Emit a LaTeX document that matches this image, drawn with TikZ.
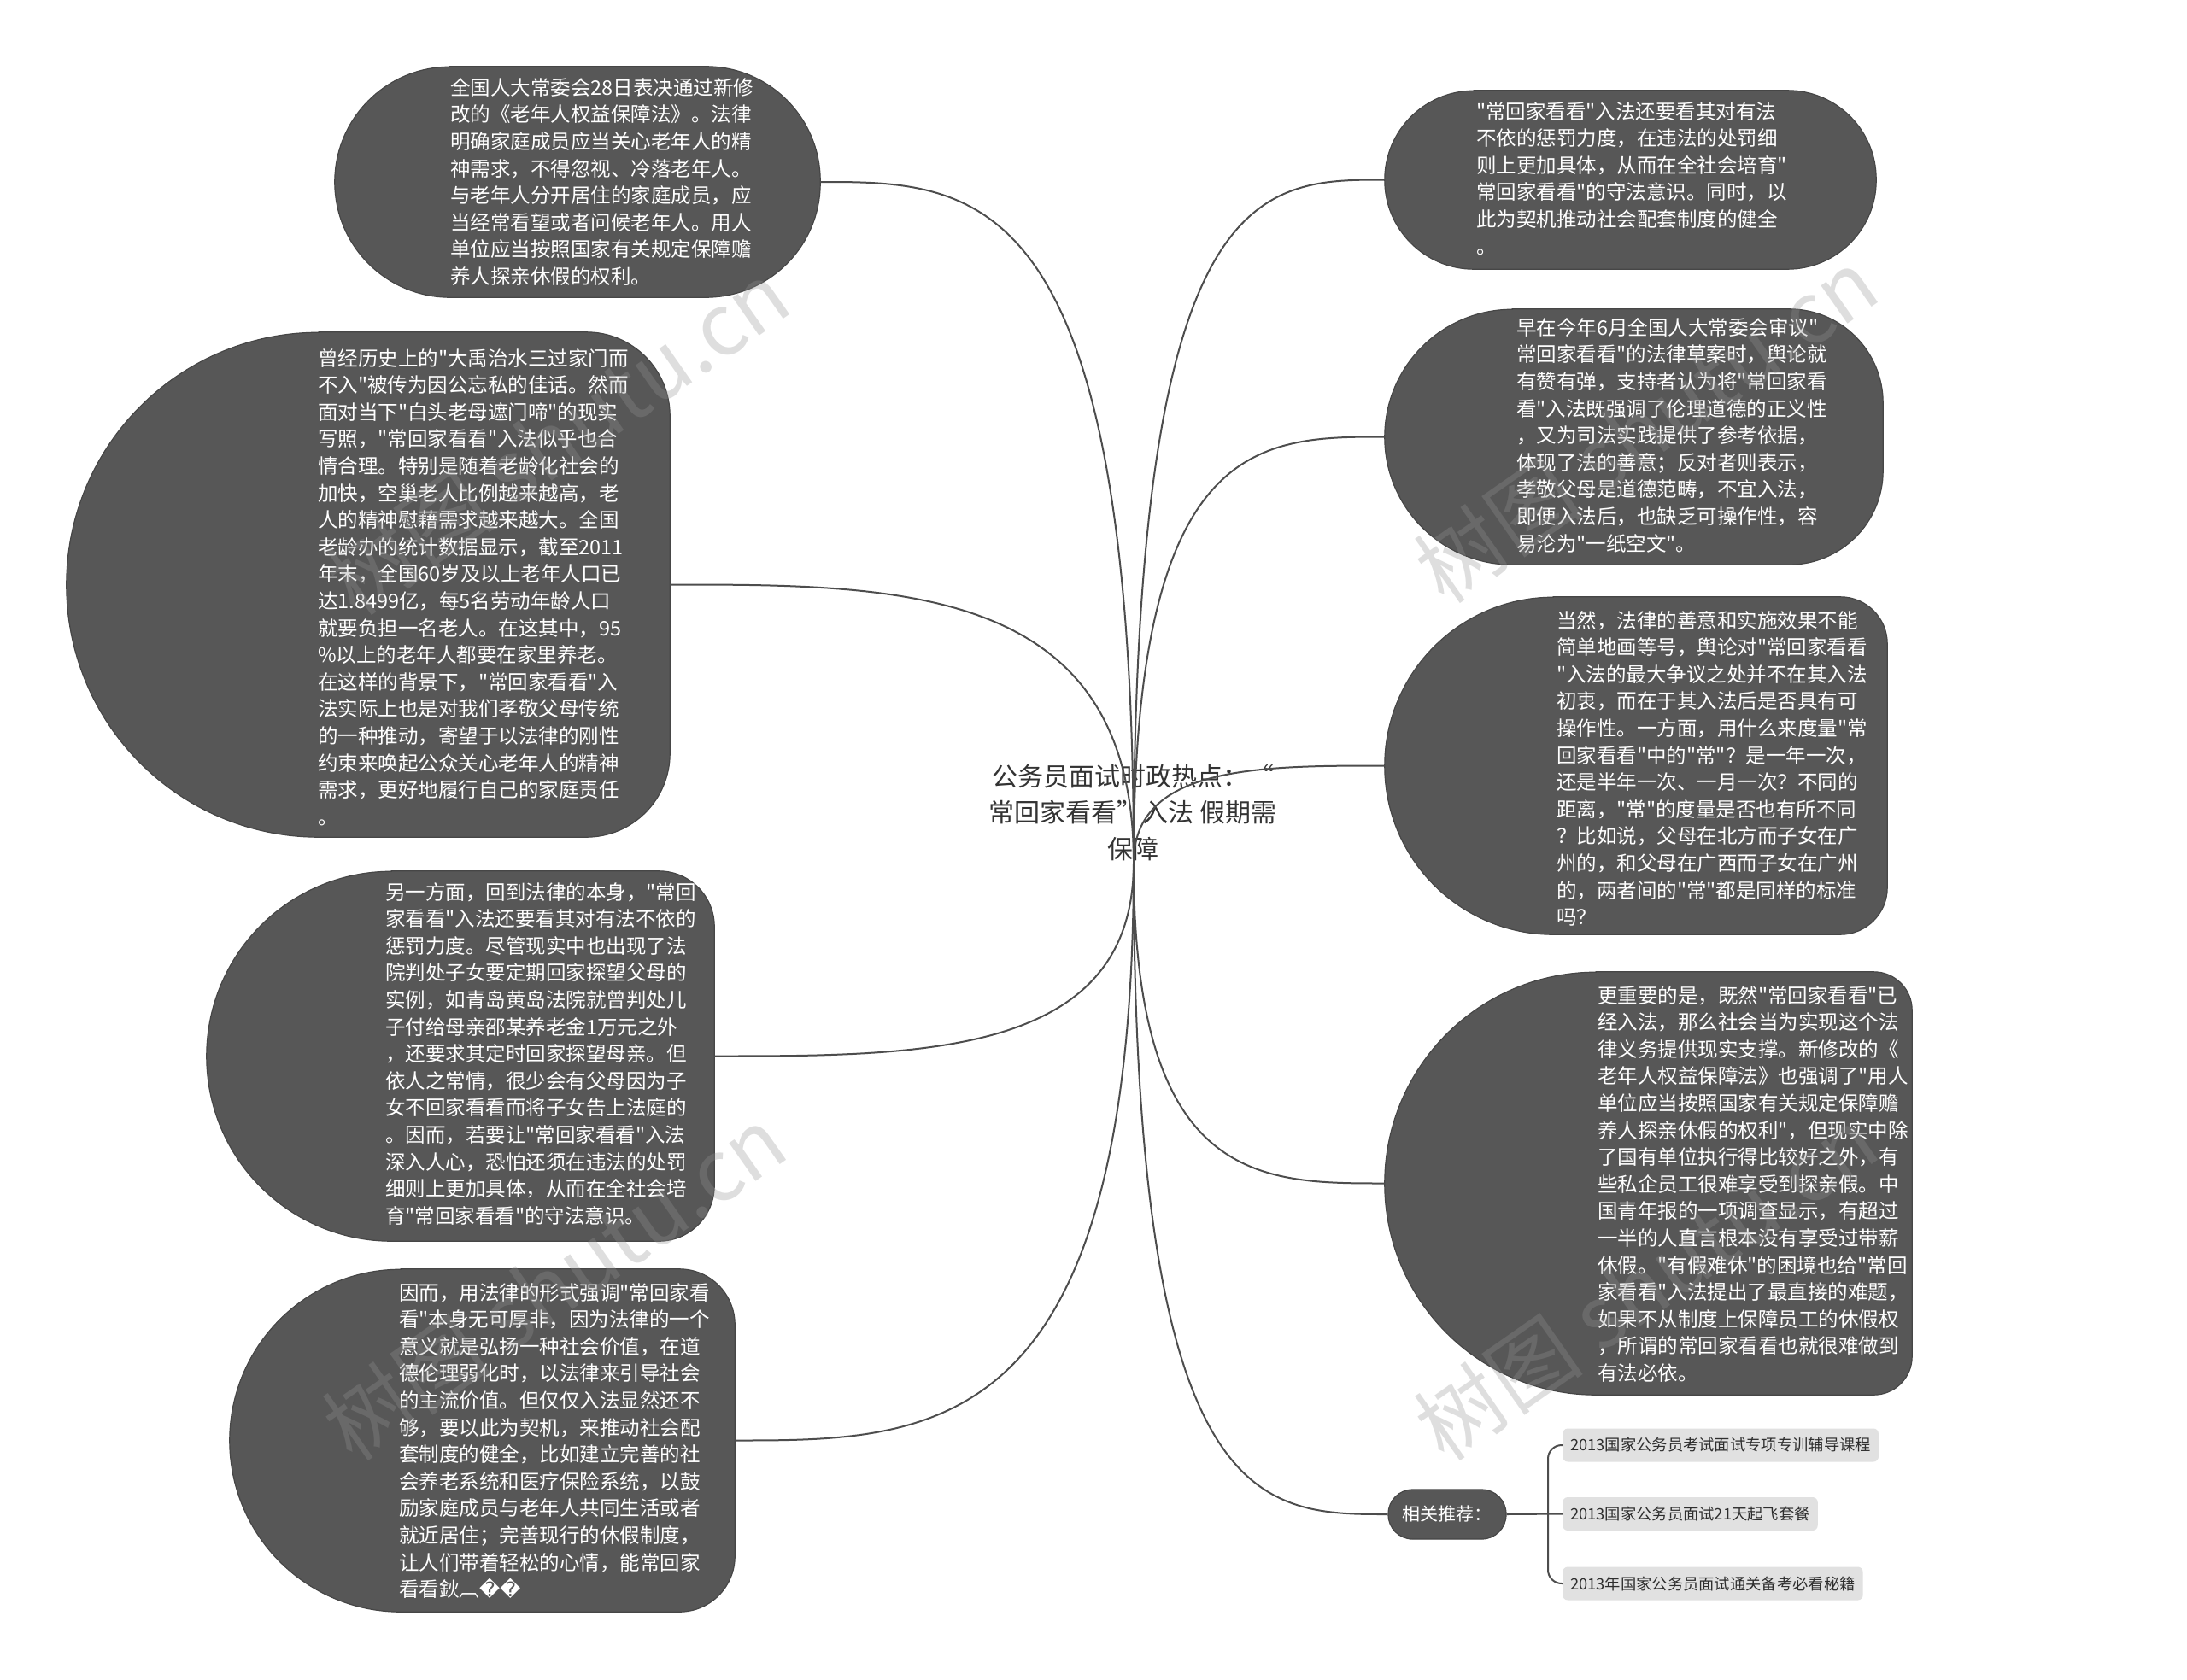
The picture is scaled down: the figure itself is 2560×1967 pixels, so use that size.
\documentclass[tikz,border=0pt]{standalone}
\usepackage{fontspec}
\setmainfont{Noto Sans CJK SC}[Ligatures=TeXOff]
\newfontfamily\symfont{DejaVu Sans}
\usetikzlibrary{calc}
\definecolor{nodefill}{HTML}{575757}
\definecolor{nodeline}{HTML}{464646}
\definecolor{linkcol}{HTML}{4D4D4D}
\definecolor{subfill}{HTML}{E1E1E1}
\definecolor{subtext}{HTML}{2E2E2E}
\definecolor{titletext}{HTML}{333333}
\definecolor{wmcol}{HTML}{939393}
\newcommand\mmlink[2]{\draw[link] (#1) .. controls (#1 |- #2) and ($(#1 |- #2)!0.5!(#2)$) .. (#2);}
% #1 frame node, #2 left cap radius, #3 right corner radius
\newcommand\blobshape[3]{\filldraw[blobstyle] ([xshift=#2pt]#1.north west) -- ([xshift=-#3pt]#1.north east)
  arc[start angle=90,end angle=0,radius=#3pt] -- ([yshift=#3pt]#1.south east)
  arc[start angle=0,end angle=-90,radius=#3pt] -- ([xshift=#2pt]#1.south west)
  arc[start angle=270,end angle=90,radius=#2pt] -- cycle;}
\begin{document}
\begin{tikzpicture}[x=1pt,y=-1pt,
  frame/.style 2 args={rectangle, inner sep=0pt, minimum width=#1pt, minimum height=#2pt},
  blobstyle/.style={draw=nodeline, line width=1.2pt, fill=nodefill},
  txt/.style={text=white, font=\fontsize{23.5pt}{31.6pt}\selectfont, align=left, anchor=north west, inner sep=0pt},
  link/.style={draw=linkcol, line width=2pt},
  subitem/.style={fill=subfill, rounded corners=6pt, inner xsep=9pt, inner ysep=0pt, minimum height=39pt,
     text=subtext, font=\fontsize{18.3pt}{22pt}\selectfont, anchor=west},
  wm/.style={text=wmcol, text opacity=0.3, font=\fontsize{100pt}{110pt}\selectfont, rotate=35, inner sep=0pt},
  titlestyle/.style={text=titletext, font=\fontsize{30pt}{42.5pt}\selectfont, align=center, inner sep=0pt}
]
\useasboundingbox[fill=white] (0,0) rectangle (2560,1967);

% central topic
\node[titlestyle] (title) at (1326,951) {公务员面试时政热点：“\\常回家看看”入法 假期需\\保障};
\coordinate (root) at (1327,1010);

% frames of the topic shapes
\node[frame={568}{270}] (L1) at (676,213) {};
\node[frame={706}{591}] (L2) at (431,684.5) {};
\node[frame={594}{433}] (L3) at (539,1236.5) {};
\node[frame={591}{401}] (L4) at (564.5,1686.5) {};
\node[frame={575}{209}] (R1) at (1908.5,210.5) {};
\node[frame={583}{299}] (R2) at (1912.5,511.5) {};
\node[frame={588}{395}] (R3) at (1915,896.5) {};
\node[frame={617}{495}] (R4) at (1929.5,1385.5) {};
\blobshape{L1}{135}{134}
\blobshape{L2}{295.5}{98}
\blobshape{L3}{216.5}{65}
\blobshape{L4}{200.5}{65}
\blobshape{R1}{104.5}{104}
\blobshape{R2}{149.5}{110}
\blobshape{R3}{197.5}{55}
\blobshape{R4}{247.5}{45}
\node[frame={138}{58}, draw=nodeline, line width=1.2pt, fill=nodefill, rounded corners=28.5pt,
      text=white, font=\fontsize{21pt}{24pt}\selectfont] (rel) at (1694,1773) {相关推荐：};

% connectors
\mmlink{root}{L1.east}
\mmlink{root}{L2.east}
\mmlink{root}{L3.east}
\mmlink{root}{L4.east}
\mmlink{root}{R1.west}
\mmlink{root}{R2.west}
\mmlink{root}{R3.west}
\mmlink{root}{R4.west}
\mmlink{root}{rel.west}

% texts
\node[txt] (L1t) at (527,91) {全国人大常委会28日表决通过新修\\改的《老年人权益保障法》。法律\\明确家庭成员应当关心老年人的精\\神需求，不得忽视、冷落老年人。\\与老年人分开居住的家庭成员，应\\当经常看望或者问候老年人。用人\\单位应当按照国家有关规定保障赡\\养人探亲休假的权利。};
\node[txt] (L2t) at (372,408) {曾经历史上的"大禹治水三过家门而\\不入"被传为因公忘私的佳话。然而\\面对当下"白头老母遮门啼"的现实\\写照，"常回家看看"入法似乎也合\\情合理。特别是随着老龄化社会的\\加快，空巢老人比例越来越高，老\\人的精神慰藉需求越来越大。全国\\老龄办的统计数据显示，截至2011\\年末，全国60岁及以上老年人口已\\达1.8499亿，每5名劳动年龄人口\\就要负担一名老人。在这其中，95\\\%以上的老年人都要在家里养老。\\在这样的背景下，"常回家看看"入\\法实际上也是对我们孝敬父母传统\\的一种推动，寄望于以法律的刚性\\约束来唤起公众关心老年人的精神\\需求，更好地履行自己的家庭责任\\。};
\node[txt] (L3t) at (451,1033) {另一方面，回到法律的本身，"常回\\家看看"入法还要看其对有法不依的\\惩罚力度。尽管现实中也出现了法\\院判处子女要定期回家探望父母的\\实例，如青岛黄岛法院就曾判处儿\\子付给母亲邵某养老金1万元之外\\，还要求其定时回家探望母亲。但\\依人之常情，很少会有父母因为子\\女不回家看看而将子女告上法庭的\\。因而，若要让"常回家看看"入法\\深入人心，恐怕还须在违法的处罚\\细则上更加具体，从而在全社会培\\育"常回家看看"的守法意识。};
\node[txt] (L4t) at (467,1502) {因而，用法律的形式强调"常回家看\\看"本身无可厚非，因为法律的一个\\意义就是弘扬一种社会价值，在道\\德伦理弱化时，以法律来引导社会\\的主流价值。但仅仅入法显然还不\\够，要以此为契机，来推动社会配\\套制度的健全，比如建立完善的社\\会养老系统和医疗保险系统，以鼓\\励家庭成员与老年人共同生活或者\\就近居住；完善现行的休假制度，\\让人们带着轻松的心情，能常回家\\看看鈥︹{\symfont ��}};
\node[txt] (R1t) at (1728,119) {"常回家看看"入法还要看其对有法\\不依的惩罚力度，在违法的处罚细\\则上更加具体，从而在全社会培育"\\常回家看看"的守法意识。同时，以\\此为契机推动社会配套制度的健全\\。};
\node[txt] (R2t) at (1775,372) {早在今年6月全国人大常委会审议"\\常回家看看"的法律草案时，舆论就\\有赞有弹，支持者认为将"常回家看\\看"入法既强调了伦理道德的正义性\\，又为司法实践提供了参考依据，\\体现了法的善意；反对者则表示，\\孝敬父母是道德范畴，不宜入法，\\即便入法后，也缺乏可操作性，容\\易沦为"一纸空文"。};
\node[txt] (R3t) at (1822,715) {当然，法律的善意和实施效果不能\\简单地画等号，舆论对"常回家看看\\"入法的最大争议之处并不在其入法\\初衷，而在于其入法后是否具有可\\操作性。一方面，用什么来度量"常\\回家看看"中的"常"？是一年一次，\\还是半年一次、一月一次？不同的\\距离，"常"的度量是否也有所不同\\？比如说，父母在北方而子女在广\\州的，和父母在广西而子女在广州\\的，两者间的"常"都是同样的标准\\吗？};
\node[txt] (R4t) at (1870,1154) {更重要的是，既然"常回家看看"已\\经入法，那么社会当为实现这个法\\律义务提供现实支撑。新修改的《\\老年人权益保障法》也强调了"用人\\单位应当按照国家有关规定保障赡\\养人探亲休假的权利"，但现实中除\\了国有单位执行得比较好之外，有\\些私企员工很难享受到探亲假。中\\国青年报的一项调查显示，有超过\\一半的人直言根本没有享受过带薪\\休假。"有假难休"的困境也给"常回\\家看看"入法提出了最直接的难题，\\如果不从制度上保障员工的休假权\\，所谓的常回家看看也就很难做到\\有法必依。};

% related items
\node[subitem] (S1) at (1829,1692) {2013国家公务员考试面试专项专训辅导课程};
\node[subitem] (S2) at (1829,1772.5) {2013国家公务员面试21天起飞套餐};
\node[subitem] (S3) at (1829,1854) {2013年国家公务员面试通关备考必看秘籍};
\coordinate (brk) at (1812,1773);
\draw[link] (rel.east) -- (S2.west);
\draw[link, rounded corners=16pt] (S1.west) -| (brk) |- (S3.west);

% watermarks
\node[wm] (wm1) at (653,512) {树图 shutu.cn};
\node[wm] (wm2) at (1927,498) {树图 shutu.cn};
\node[wm] (wm3) at (649,1502) {树图 shutu.cn};
\node[wm] (wm4) at (1927,1502) {树图 shutu.cn};
\end{tikzpicture}
\end{document}
